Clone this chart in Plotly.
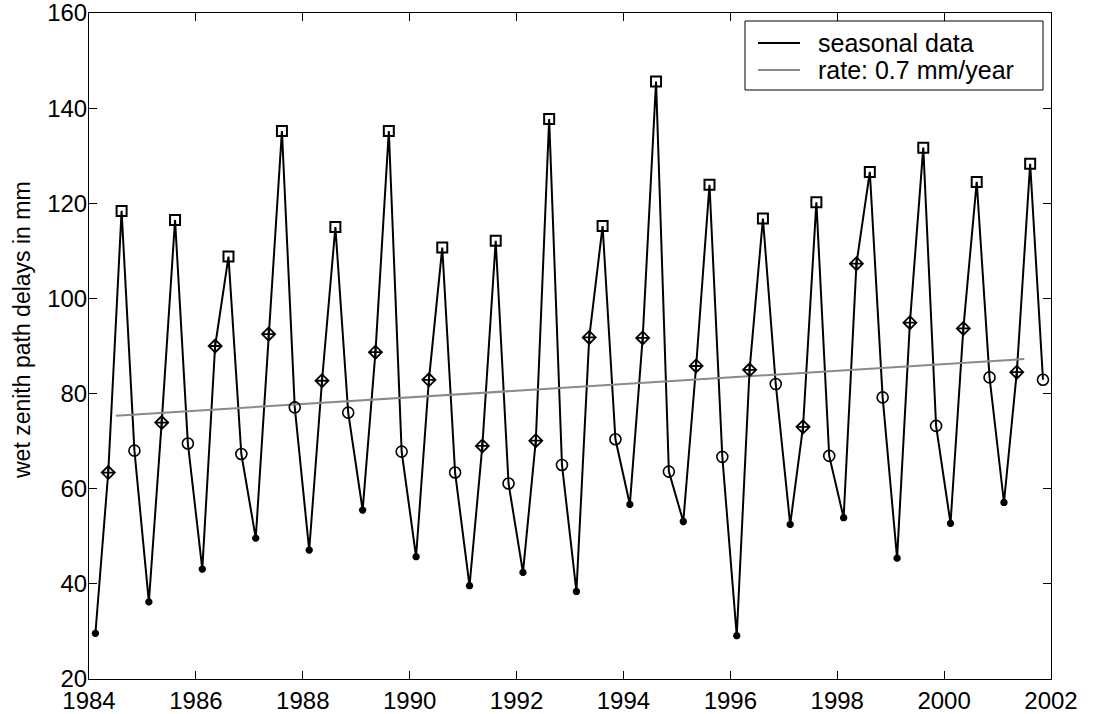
import plotly.graph_objects as go

# ---- data ----
years = list(range(1984, 2002))
season_offset = [0.12, 0.36, 0.61, 0.85]  # winter, spring, summer, autumn (fraction of year)
winter = [29.6, 36.2, 43.1, 49.6, 47.1, 55.5, 45.7, 39.6, 42.4, 38.4, 56.7, 53.1, 29.1, 52.5, 53.9, 45.4, 52.7, 57.1]
spring = [63.4, 73.9, 90.0, 92.5, 82.7, 88.7, 82.9, 69.0, 70.1, 91.8, 91.7, 85.8, 85.0, 73.0, 107.3, 94.9, 93.7, 84.5]
summer = [118.4, 116.5, 108.8, 135.2, 115.0, 135.2, 110.7, 112.1, 137.7, 115.2, 145.6, 123.9, 116.8, 120.2, 126.6, 131.7, 124.5, 128.3]
autumn = [68.0, 69.5, 67.3, 77.1, 76.0, 67.8, 63.4, 61.1, 65.0, 70.4, 63.6, 66.7, 82.0, 66.9, 79.2, 73.2, 83.4, 82.9]
trend_x = [1984.5, 2001.5]
trend_y = [75.35, 87.25]
x_ticks = list(range(1984, 2003, 2))
y_ticks = list(range(20, 161, 20))
legend_labels = ["seasonal data", "rate: 0.7 mm/year"]

seasons = [winter, spring, summer, autumn]
season_x = [[yr + season_offset[q] for yr in years] for q in range(4)]

all_x, all_y = [], []
for i, yr in enumerate(years):
    for q in range(4):
        all_x.append(season_x[q][i])
        all_y.append(seasons[q][i])

FONT = "Liberation Sans, Arial, sans-serif"
SEASON_COLOR = "black"
TREND_COLOR = "#8a8a8a"

fig = go.Figure()
fig.add_trace(go.Scatter(x=all_x, y=all_y, mode="lines", name=legend_labels[0],
                         line=dict(color=SEASON_COLOR, width=2), showlegend=False))
fig.add_trace(go.Scatter(x=trend_x, y=trend_y, mode="lines", name=legend_labels[1],
                         line=dict(color=TREND_COLOR, width=2), showlegend=False))

marker_styles = [
    dict(symbol="asterisk-open", size=6, line=dict(color="black", width=2.5)),
    dict(symbol="diamond-cross-open", size=10, line=dict(color="black", width=1.8)),
    dict(symbol="square-open", size=10, line=dict(color="black", width=2)),
    dict(symbol="circle-open", size=11, line=dict(color="black", width=1.6)),
]
for q in range(4):
    fig.add_trace(go.Scatter(x=season_x[q], y=seasons[q], mode="markers",
                             marker=dict(color="black", **marker_styles[q]),
                             showlegend=False, hoverinfo="skip"))

axis_common = dict(showline=True, linecolor="black", linewidth=1, mirror="allticks",
                   ticks="inside", ticklen=8, tickcolor="black", tickwidth=1,
                   showgrid=False, zeroline=False, ticklabeloverflow="allow",
                   automargin=False,
                   tickfont=dict(family=FONT, size=24, color="black"))

W, H = 1093, 714
L, R, T, B = 89, 1051, 13, 679  # plot area on the page (px)


def px(xp):
    return (xp - L) / (R - L)


def py(yp):
    return (B - yp) / (B - T)


shapes = [
    dict(type="rect", xref="paper", yref="paper", x0=px(745), x1=px(1043), y0=py(90), y1=py(21),
         line=dict(color="black", width=1), fillcolor="white", layer="above"),
    dict(type="line", xref="paper", yref="paper", x0=px(758), x1=px(800), y0=py(43), y1=py(43),
         line=dict(color=SEASON_COLOR, width=2), layer="above"),
    dict(type="line", xref="paper", yref="paper", x0=px(758), x1=px(800), y0=py(70), y1=py(70),
         line=dict(color=TREND_COLOR, width=2), layer="above"),
]
annotations = [
    dict(text=legend_labels[0], xref="paper", yref="paper", x=px(816), y=py(43),
         xanchor="left", yanchor="middle", showarrow=False,
         font=dict(family=FONT, size=25, color="black")),
    dict(text=legend_labels[1], xref="paper", yref="paper", x=px(816), y=py(70),
         xanchor="left", yanchor="middle", showarrow=False,
         font=dict(family=FONT, size=25, color="black")),
    dict(text="wet zenith path delays in mm", textangle=-90,
         xref="paper", yref="paper", x=px(22), y=py(330),
         xanchor="center", yanchor="middle", showarrow=False,
         font=dict(family=FONT, size=23, color="black")),
]

fig.update_layout(
    width=W, height=H,
    margin=dict(l=L, r=W - R, t=T, b=H - B, pad=0, autoexpand=False),
    paper_bgcolor="white", plot_bgcolor="white",
    xaxis=dict(range=[1984, 2002], tickvals=x_ticks, **axis_common),
    yaxis=dict(range=[20, 160], tickvals=y_ticks, ticklabelstandoff=-4, **axis_common),
    showlegend=False,
    shapes=shapes,
    annotations=annotations,
)

fig.write_html("out.html", config={"displayModeBar": False},
               post_script="document.body.style.margin='0px';")
